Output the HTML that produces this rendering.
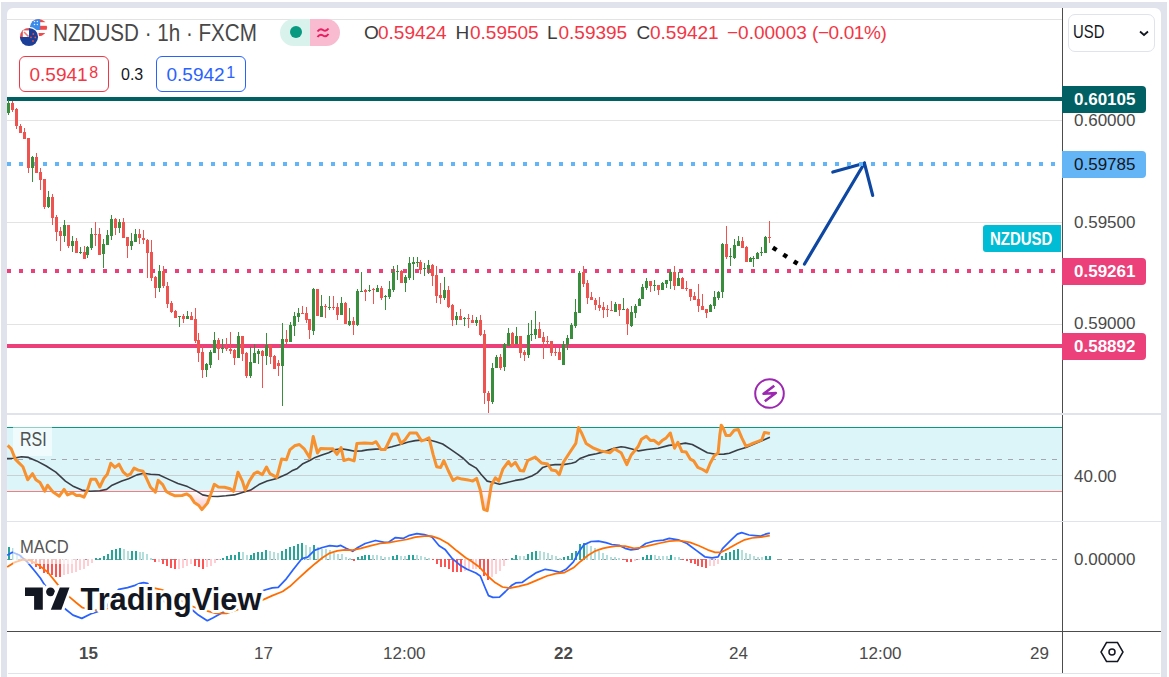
<!DOCTYPE html>
<html><head><meta charset="utf-8">
<style>
*{margin:0;padding:0;box-sizing:border-box}
html,body{width:1169px;height:677px;overflow:hidden;background:#fff;font-family:"Liberation Sans",sans-serif}
.frame{position:absolute;left:1px;top:2px;width:1166px;height:675px;background:#e0e3eb}
.card{position:absolute;left:7px;top:8px;width:1154px;height:669px;background:#fff;border-radius:6px 6px 0 0}
svg{position:absolute;left:0;top:0}
.t{position:absolute;white-space:nowrap;line-height:1}
.ax{font-size:17px;color:#4a4a4a}
.lbl{position:absolute;left:1062px;width:84px;height:27px;border-radius:0 4px 4px 0;font-size:17px;font-weight:bold;line-height:28.5px;padding-left:12px}
</style></head><body>
<div class="frame"></div>
<div class="card"></div>
<svg width="1169" height="677" viewBox="0 0 1169 677">
<defs><linearGradient id="pg" x1="0" y1="491" x2="0" y2="512" gradientUnits="userSpaceOnUse"><stop offset="0" stop-color="#f7a8b0" stop-opacity="0"/><stop offset="1" stop-color="#f7a8b0" stop-opacity="0.75"/></linearGradient></defs>
<!-- grid -->
<g fill="#e3e3e3">
<rect x="7" y="19" width="1055" height="1"/>
<rect x="7" y="120" width="1055" height="1"/>
<rect x="7" y="222" width="1055" height="1"/>
<rect x="7" y="324" width="1055" height="1"/>
</g>
<!-- black dotted projection -->
<rect x="772.5" y="246.60000000000002" width="4.4" height="4.4" fill="#000" transform="rotate(33 774.7 248.8)"/><rect x="783.0" y="253.5" width="4.4" height="4.4" fill="#000" transform="rotate(33 785.2 255.7)"/><rect x="793.5" y="260.3" width="4.4" height="4.4" fill="#000" transform="rotate(33 795.7 262.5)"/>
<!-- blue arrow -->
<g stroke="#0d47a1" stroke-width="3.2" stroke-linecap="round" fill="none">
<line x1="804.5" y1="264" x2="864.4" y2="163.2"/>
<line x1="864.4" y1="163.2" x2="832.8" y2="172"/>
<line x1="864.4" y1="163.2" x2="872.7" y2="195.4"/>
</g>
<!-- horizontal drawings -->
<rect x="7" y="97" width="1055" height="4" fill="#006064"/>
<line x1="7" y1="164" x2="1062" y2="164" stroke="#64b5f6" stroke-width="4" stroke-dasharray="4 8"/>
<line x1="7" y1="271" x2="1062" y2="271" stroke="#ec407a" stroke-width="4" stroke-dasharray="4 8"/>
<rect x="7" y="344" width="1055" height="4" fill="#ec407a"/>
<!-- candles -->
<g shape-rendering="crispEdges">
<rect x="8" y="100" width="1" height="15" fill="#388e3c"/>
<rect x="7" y="103" width="3" height="10" fill="#388e3c"/>
<rect x="12" y="101" width="1" height="11" fill="#ef5350"/>
<rect x="11" y="103" width="3" height="7" fill="#ef5350"/>
<rect x="16" y="108" width="1" height="21" fill="#ef5350"/>
<rect x="15" y="109" width="3" height="17" fill="#ef5350"/>
<rect x="20" y="124" width="1" height="9" fill="#ef5350"/>
<rect x="19" y="126" width="3" height="7" fill="#ef5350"/>
<rect x="24" y="128" width="1" height="11" fill="#ef5350"/>
<rect x="23" y="132" width="3" height="7" fill="#ef5350"/>
<rect x="28" y="138" width="1" height="35" fill="#ef5350"/>
<rect x="27" y="138" width="3" height="30" fill="#ef5350"/>
<rect x="32" y="156" width="1" height="26" fill="#388e3c"/>
<rect x="31" y="157" width="3" height="11" fill="#388e3c"/>
<rect x="36" y="153" width="1" height="20" fill="#ef5350"/>
<rect x="35" y="157" width="3" height="16" fill="#ef5350"/>
<rect x="40" y="168" width="1" height="22" fill="#ef5350"/>
<rect x="39" y="172" width="3" height="8" fill="#ef5350"/>
<rect x="44" y="179" width="1" height="30" fill="#ef5350"/>
<rect x="43" y="179" width="3" height="28" fill="#ef5350"/>
<rect x="48" y="191" width="1" height="17" fill="#388e3c"/>
<rect x="47" y="197" width="3" height="10" fill="#388e3c"/>
<rect x="52" y="194" width="1" height="31" fill="#ef5350"/>
<rect x="51" y="197" width="3" height="21" fill="#ef5350"/>
<rect x="56" y="215" width="1" height="26" fill="#ef5350"/>
<rect x="55" y="217" width="3" height="15" fill="#ef5350"/>
<rect x="60" y="227" width="1" height="24" fill="#ef5350"/>
<rect x="59" y="231" width="3" height="5" fill="#ef5350"/>
<rect x="64" y="220" width="1" height="22" fill="#388e3c"/>
<rect x="63" y="225" width="3" height="11" fill="#388e3c"/>
<rect x="68" y="225" width="1" height="23" fill="#ef5350"/>
<rect x="67" y="225" width="3" height="21" fill="#ef5350"/>
<rect x="72" y="236" width="1" height="16" fill="#388e3c"/>
<rect x="71" y="241" width="3" height="5" fill="#388e3c"/>
<rect x="76" y="238" width="1" height="15" fill="#ef5350"/>
<rect x="75" y="241" width="3" height="12" fill="#ef5350"/>
<rect x="80" y="247" width="1" height="7" fill="#388e3c"/>
<rect x="79" y="252" width="3" height="1" fill="#388e3c"/>
<rect x="84" y="246" width="1" height="13" fill="#ef5350"/>
<rect x="83" y="252" width="3" height="7" fill="#ef5350"/>
<rect x="87" y="246" width="1" height="12" fill="#388e3c"/>
<rect x="86" y="247" width="3" height="8" fill="#388e3c"/>
<rect x="91" y="228" width="1" height="22" fill="#388e3c"/>
<rect x="90" y="234" width="3" height="14" fill="#388e3c"/>
<rect x="95" y="222" width="1" height="24" fill="#ef5350"/>
<rect x="94" y="234" width="3" height="1" fill="#ef5350"/>
<rect x="99" y="228" width="1" height="27" fill="#ef5350"/>
<rect x="98" y="234" width="3" height="21" fill="#ef5350"/>
<rect x="103" y="239" width="1" height="29" fill="#388e3c"/>
<rect x="102" y="244" width="3" height="10" fill="#388e3c"/>
<rect x="107" y="230" width="1" height="15" fill="#388e3c"/>
<rect x="106" y="235" width="3" height="10" fill="#388e3c"/>
<rect x="111" y="215" width="1" height="25" fill="#388e3c"/>
<rect x="110" y="219" width="3" height="17" fill="#388e3c"/>
<rect x="115" y="218" width="1" height="17" fill="#ef5350"/>
<rect x="114" y="219" width="3" height="9" fill="#ef5350"/>
<rect x="119" y="219" width="1" height="14" fill="#388e3c"/>
<rect x="118" y="222" width="3" height="6" fill="#388e3c"/>
<rect x="123" y="218" width="1" height="20" fill="#ef5350"/>
<rect x="122" y="222" width="3" height="16" fill="#ef5350"/>
<rect x="127" y="237" width="1" height="21" fill="#ef5350"/>
<rect x="126" y="237" width="3" height="9" fill="#ef5350"/>
<rect x="131" y="233" width="1" height="17" fill="#388e3c"/>
<rect x="130" y="241" width="3" height="5" fill="#388e3c"/>
<rect x="135" y="229" width="1" height="13" fill="#388e3c"/>
<rect x="134" y="234" width="3" height="8" fill="#388e3c"/>
<rect x="139" y="229" width="1" height="15" fill="#ef5350"/>
<rect x="138" y="234" width="3" height="4" fill="#ef5350"/>
<rect x="143" y="230" width="1" height="14" fill="#ef5350"/>
<rect x="142" y="238" width="3" height="2" fill="#ef5350"/>
<rect x="147" y="239" width="1" height="39" fill="#ef5350"/>
<rect x="146" y="240" width="3" height="13" fill="#ef5350"/>
<rect x="151" y="240" width="1" height="41" fill="#ef5350"/>
<rect x="150" y="252" width="3" height="26" fill="#ef5350"/>
<rect x="155" y="276" width="1" height="22" fill="#ef5350"/>
<rect x="154" y="277" width="3" height="11" fill="#ef5350"/>
<rect x="159" y="265" width="1" height="27" fill="#388e3c"/>
<rect x="158" y="271" width="3" height="17" fill="#388e3c"/>
<rect x="163" y="266" width="1" height="22" fill="#ef5350"/>
<rect x="162" y="271" width="3" height="15" fill="#ef5350"/>
<rect x="167" y="282" width="1" height="26" fill="#ef5350"/>
<rect x="166" y="286" width="3" height="18" fill="#ef5350"/>
<rect x="171" y="301" width="1" height="12" fill="#ef5350"/>
<rect x="170" y="303" width="3" height="9" fill="#ef5350"/>
<rect x="175" y="310" width="1" height="8" fill="#ef5350"/>
<rect x="174" y="311" width="3" height="7" fill="#ef5350"/>
<rect x="179" y="316" width="1" height="11" fill="#388e3c"/>
<rect x="178" y="316" width="3" height="1" fill="#388e3c"/>
<rect x="183" y="314" width="1" height="9" fill="#ef5350"/>
<rect x="182" y="316" width="3" height="3" fill="#ef5350"/>
<rect x="187" y="311" width="1" height="8" fill="#388e3c"/>
<rect x="186" y="316" width="3" height="3" fill="#388e3c"/>
<rect x="191" y="312" width="1" height="8" fill="#ef5350"/>
<rect x="190" y="316" width="3" height="4" fill="#ef5350"/>
<rect x="195" y="308" width="1" height="35" fill="#ef5350"/>
<rect x="194" y="319" width="3" height="22" fill="#ef5350"/>
<rect x="198" y="333" width="1" height="29" fill="#ef5350"/>
<rect x="197" y="340" width="3" height="13" fill="#ef5350"/>
<rect x="202" y="346" width="1" height="32" fill="#ef5350"/>
<rect x="201" y="352" width="3" height="18" fill="#ef5350"/>
<rect x="206" y="363" width="1" height="14" fill="#388e3c"/>
<rect x="205" y="364" width="3" height="6" fill="#388e3c"/>
<rect x="210" y="350" width="1" height="18" fill="#388e3c"/>
<rect x="209" y="352" width="3" height="13" fill="#388e3c"/>
<rect x="214" y="332" width="1" height="21" fill="#388e3c"/>
<rect x="213" y="340" width="3" height="13" fill="#388e3c"/>
<rect x="218" y="338" width="1" height="22" fill="#ef5350"/>
<rect x="217" y="340" width="3" height="9" fill="#ef5350"/>
<rect x="222" y="339" width="1" height="14" fill="#388e3c"/>
<rect x="221" y="348" width="3" height="1" fill="#388e3c"/>
<rect x="226" y="338" width="1" height="13" fill="#ef5350"/>
<rect x="225" y="348" width="3" height="1" fill="#ef5350"/>
<rect x="230" y="332" width="1" height="22" fill="#ef5350"/>
<rect x="229" y="349" width="3" height="2" fill="#ef5350"/>
<rect x="234" y="349" width="1" height="16" fill="#ef5350"/>
<rect x="233" y="350" width="3" height="8" fill="#ef5350"/>
<rect x="238" y="332" width="1" height="26" fill="#388e3c"/>
<rect x="237" y="336" width="3" height="22" fill="#388e3c"/>
<rect x="242" y="336" width="1" height="25" fill="#ef5350"/>
<rect x="241" y="336" width="3" height="18" fill="#ef5350"/>
<rect x="246" y="352" width="1" height="26" fill="#ef5350"/>
<rect x="245" y="353" width="3" height="23" fill="#ef5350"/>
<rect x="250" y="347" width="1" height="31" fill="#388e3c"/>
<rect x="249" y="362" width="3" height="14" fill="#388e3c"/>
<rect x="254" y="344" width="1" height="19" fill="#388e3c"/>
<rect x="253" y="353" width="3" height="10" fill="#388e3c"/>
<rect x="258" y="349" width="1" height="15" fill="#388e3c"/>
<rect x="257" y="351" width="3" height="3" fill="#388e3c"/>
<rect x="262" y="350" width="1" height="38" fill="#ef5350"/>
<rect x="261" y="351" width="3" height="5" fill="#ef5350"/>
<rect x="266" y="333" width="1" height="32" fill="#388e3c"/>
<rect x="265" y="345" width="3" height="11" fill="#388e3c"/>
<rect x="270" y="345" width="1" height="19" fill="#ef5350"/>
<rect x="269" y="345" width="3" height="12" fill="#ef5350"/>
<rect x="274" y="355" width="1" height="14" fill="#ef5350"/>
<rect x="273" y="356" width="3" height="13" fill="#ef5350"/>
<rect x="278" y="360" width="1" height="16" fill="#ef5350"/>
<rect x="277" y="363" width="3" height="3" fill="#ef5350"/>
<rect x="282" y="323" width="1" height="83" fill="#388e3c"/>
<rect x="281" y="339" width="3" height="27" fill="#388e3c"/>
<rect x="286" y="330" width="1" height="14" fill="#ef5350"/>
<rect x="285" y="339" width="3" height="3" fill="#ef5350"/>
<rect x="290" y="322" width="1" height="20" fill="#388e3c"/>
<rect x="289" y="325" width="3" height="17" fill="#388e3c"/>
<rect x="294" y="312" width="1" height="24" fill="#388e3c"/>
<rect x="293" y="316" width="3" height="10" fill="#388e3c"/>
<rect x="298" y="308" width="1" height="14" fill="#388e3c"/>
<rect x="297" y="313" width="3" height="4" fill="#388e3c"/>
<rect x="302" y="306" width="1" height="8" fill="#ef5350"/>
<rect x="301" y="313" width="3" height="1" fill="#ef5350"/>
<rect x="306" y="307" width="1" height="16" fill="#ef5350"/>
<rect x="305" y="313" width="3" height="7" fill="#ef5350"/>
<rect x="309" y="319" width="1" height="20" fill="#ef5350"/>
<rect x="308" y="319" width="3" height="11" fill="#ef5350"/>
<rect x="313" y="288" width="1" height="47" fill="#388e3c"/>
<rect x="312" y="289" width="3" height="42" fill="#388e3c"/>
<rect x="317" y="289" width="1" height="27" fill="#ef5350"/>
<rect x="316" y="289" width="3" height="27" fill="#ef5350"/>
<rect x="321" y="295" width="1" height="22" fill="#388e3c"/>
<rect x="320" y="306" width="3" height="11" fill="#388e3c"/>
<rect x="325" y="304" width="1" height="14" fill="#ef5350"/>
<rect x="324" y="306" width="3" height="1" fill="#ef5350"/>
<rect x="329" y="296" width="1" height="14" fill="#388e3c"/>
<rect x="328" y="307" width="3" height="1" fill="#388e3c"/>
<rect x="333" y="296" width="1" height="14" fill="#ef5350"/>
<rect x="332" y="307" width="3" height="1" fill="#ef5350"/>
<rect x="337" y="303" width="1" height="17" fill="#ef5350"/>
<rect x="336" y="307" width="3" height="8" fill="#ef5350"/>
<rect x="341" y="297" width="1" height="18" fill="#388e3c"/>
<rect x="340" y="303" width="3" height="12" fill="#388e3c"/>
<rect x="345" y="302" width="1" height="22" fill="#ef5350"/>
<rect x="344" y="303" width="3" height="21" fill="#ef5350"/>
<rect x="349" y="308" width="1" height="18" fill="#388e3c"/>
<rect x="348" y="321" width="3" height="4" fill="#388e3c"/>
<rect x="353" y="317" width="1" height="18" fill="#ef5350"/>
<rect x="352" y="321" width="3" height="4" fill="#ef5350"/>
<rect x="357" y="289" width="1" height="37" fill="#388e3c"/>
<rect x="356" y="291" width="3" height="34" fill="#388e3c"/>
<rect x="361" y="272" width="1" height="20" fill="#388e3c"/>
<rect x="360" y="291" width="3" height="1" fill="#388e3c"/>
<rect x="365" y="289" width="1" height="12" fill="#ef5350"/>
<rect x="364" y="290" width="3" height="2" fill="#ef5350"/>
<rect x="369" y="285" width="1" height="7" fill="#388e3c"/>
<rect x="368" y="290" width="3" height="1" fill="#388e3c"/>
<rect x="373" y="288" width="1" height="16" fill="#ef5350"/>
<rect x="372" y="289" width="3" height="1" fill="#ef5350"/>
<rect x="377" y="285" width="1" height="7" fill="#388e3c"/>
<rect x="376" y="288" width="3" height="4" fill="#388e3c"/>
<rect x="381" y="286" width="1" height="14" fill="#ef5350"/>
<rect x="380" y="288" width="3" height="10" fill="#ef5350"/>
<rect x="385" y="295" width="1" height="15" fill="#388e3c"/>
<rect x="384" y="296" width="3" height="1" fill="#388e3c"/>
<rect x="389" y="281" width="1" height="18" fill="#388e3c"/>
<rect x="388" y="289" width="3" height="8" fill="#388e3c"/>
<rect x="393" y="266" width="1" height="26" fill="#388e3c"/>
<rect x="392" y="272" width="3" height="18" fill="#388e3c"/>
<rect x="397" y="265" width="1" height="15" fill="#388e3c"/>
<rect x="396" y="271" width="3" height="1" fill="#388e3c"/>
<rect x="401" y="270" width="1" height="13" fill="#ef5350"/>
<rect x="400" y="271" width="3" height="12" fill="#ef5350"/>
<rect x="405" y="275" width="1" height="17" fill="#388e3c"/>
<rect x="404" y="277" width="3" height="6" fill="#388e3c"/>
<rect x="409" y="257" width="1" height="23" fill="#388e3c"/>
<rect x="408" y="263" width="3" height="15" fill="#388e3c"/>
<rect x="413" y="257" width="1" height="23" fill="#388e3c"/>
<rect x="412" y="262" width="3" height="2" fill="#388e3c"/>
<rect x="417" y="257" width="1" height="10" fill="#388e3c"/>
<rect x="416" y="262" width="3" height="1" fill="#388e3c"/>
<rect x="420" y="260" width="1" height="14" fill="#ef5350"/>
<rect x="419" y="262" width="3" height="8" fill="#ef5350"/>
<rect x="424" y="263" width="1" height="13" fill="#388e3c"/>
<rect x="423" y="268" width="3" height="1" fill="#388e3c"/>
<rect x="428" y="260" width="1" height="14" fill="#388e3c"/>
<rect x="427" y="265" width="3" height="4" fill="#388e3c"/>
<rect x="432" y="264" width="1" height="22" fill="#ef5350"/>
<rect x="431" y="265" width="3" height="11" fill="#ef5350"/>
<rect x="436" y="266" width="1" height="37" fill="#ef5350"/>
<rect x="435" y="275" width="3" height="21" fill="#ef5350"/>
<rect x="440" y="283" width="1" height="21" fill="#ef5350"/>
<rect x="439" y="295" width="3" height="3" fill="#ef5350"/>
<rect x="444" y="277" width="1" height="23" fill="#388e3c"/>
<rect x="443" y="290" width="3" height="8" fill="#388e3c"/>
<rect x="448" y="286" width="1" height="22" fill="#ef5350"/>
<rect x="447" y="290" width="3" height="17" fill="#ef5350"/>
<rect x="452" y="304" width="1" height="22" fill="#ef5350"/>
<rect x="451" y="305" width="3" height="15" fill="#ef5350"/>
<rect x="456" y="312" width="1" height="13" fill="#388e3c"/>
<rect x="455" y="316" width="3" height="4" fill="#388e3c"/>
<rect x="460" y="309" width="1" height="11" fill="#ef5350"/>
<rect x="459" y="316" width="3" height="4" fill="#ef5350"/>
<rect x="464" y="317" width="1" height="9" fill="#388e3c"/>
<rect x="463" y="318" width="3" height="1" fill="#388e3c"/>
<rect x="468" y="314" width="1" height="14" fill="#ef5350"/>
<rect x="467" y="318" width="3" height="1" fill="#ef5350"/>
<rect x="472" y="315" width="1" height="8" fill="#ef5350"/>
<rect x="471" y="320" width="3" height="3" fill="#ef5350"/>
<rect x="476" y="317" width="1" height="9" fill="#388e3c"/>
<rect x="475" y="320" width="3" height="3" fill="#388e3c"/>
<rect x="480" y="315" width="1" height="21" fill="#ef5350"/>
<rect x="479" y="320" width="3" height="15" fill="#ef5350"/>
<rect x="484" y="330" width="1" height="74" fill="#ef5350"/>
<rect x="483" y="334" width="3" height="59" fill="#ef5350"/>
<rect x="488" y="391" width="1" height="22" fill="#ef5350"/>
<rect x="487" y="393" width="3" height="8" fill="#ef5350"/>
<rect x="492" y="363" width="1" height="41" fill="#388e3c"/>
<rect x="491" y="368" width="3" height="34" fill="#388e3c"/>
<rect x="496" y="355" width="1" height="13" fill="#388e3c"/>
<rect x="495" y="357" width="3" height="11" fill="#388e3c"/>
<rect x="500" y="354" width="1" height="16" fill="#ef5350"/>
<rect x="499" y="357" width="3" height="11" fill="#ef5350"/>
<rect x="504" y="343" width="1" height="28" fill="#388e3c"/>
<rect x="503" y="344" width="3" height="23" fill="#388e3c"/>
<rect x="508" y="328" width="1" height="18" fill="#388e3c"/>
<rect x="507" y="333" width="3" height="13" fill="#388e3c"/>
<rect x="512" y="332" width="1" height="15" fill="#ef5350"/>
<rect x="511" y="333" width="3" height="13" fill="#ef5350"/>
<rect x="516" y="327" width="1" height="17" fill="#388e3c"/>
<rect x="515" y="336" width="3" height="8" fill="#388e3c"/>
<rect x="520" y="336" width="1" height="22" fill="#ef5350"/>
<rect x="519" y="336" width="3" height="17" fill="#ef5350"/>
<rect x="524" y="350" width="1" height="11" fill="#ef5350"/>
<rect x="523" y="352" width="3" height="3" fill="#ef5350"/>
<rect x="528" y="323" width="1" height="35" fill="#388e3c"/>
<rect x="527" y="335" width="3" height="20" fill="#388e3c"/>
<rect x="531" y="320" width="1" height="21" fill="#388e3c"/>
<rect x="530" y="334" width="3" height="1" fill="#388e3c"/>
<rect x="535" y="311" width="1" height="28" fill="#388e3c"/>
<rect x="534" y="329" width="3" height="6" fill="#388e3c"/>
<rect x="539" y="322" width="1" height="16" fill="#ef5350"/>
<rect x="538" y="329" width="3" height="9" fill="#ef5350"/>
<rect x="543" y="332" width="1" height="27" fill="#ef5350"/>
<rect x="542" y="337" width="3" height="5" fill="#ef5350"/>
<rect x="547" y="336" width="1" height="11" fill="#ef5350"/>
<rect x="546" y="341" width="3" height="1" fill="#ef5350"/>
<rect x="551" y="341" width="1" height="15" fill="#ef5350"/>
<rect x="550" y="341" width="3" height="12" fill="#ef5350"/>
<rect x="555" y="348" width="1" height="8" fill="#ef5350"/>
<rect x="554" y="352" width="3" height="1" fill="#ef5350"/>
<rect x="559" y="348" width="1" height="12" fill="#ef5350"/>
<rect x="558" y="352" width="3" height="8" fill="#ef5350"/>
<rect x="563" y="341" width="1" height="24" fill="#388e3c"/>
<rect x="562" y="344" width="3" height="21" fill="#388e3c"/>
<rect x="567" y="335" width="1" height="15" fill="#388e3c"/>
<rect x="566" y="338" width="3" height="7" fill="#388e3c"/>
<rect x="571" y="323" width="1" height="16" fill="#388e3c"/>
<rect x="570" y="325" width="3" height="14" fill="#388e3c"/>
<rect x="575" y="299" width="1" height="29" fill="#388e3c"/>
<rect x="574" y="312" width="3" height="14" fill="#388e3c"/>
<rect x="579" y="271" width="1" height="42" fill="#388e3c"/>
<rect x="578" y="273" width="3" height="40" fill="#388e3c"/>
<rect x="583" y="266" width="1" height="21" fill="#ef5350"/>
<rect x="582" y="272" width="3" height="12" fill="#ef5350"/>
<rect x="587" y="280" width="1" height="24" fill="#ef5350"/>
<rect x="586" y="283" width="3" height="15" fill="#ef5350"/>
<rect x="591" y="292" width="1" height="8" fill="#ef5350"/>
<rect x="590" y="297" width="3" height="3" fill="#ef5350"/>
<rect x="595" y="298" width="1" height="12" fill="#ef5350"/>
<rect x="594" y="300" width="3" height="5" fill="#ef5350"/>
<rect x="599" y="297" width="1" height="14" fill="#ef5350"/>
<rect x="598" y="305" width="3" height="3" fill="#ef5350"/>
<rect x="603" y="302" width="1" height="16" fill="#ef5350"/>
<rect x="602" y="307" width="3" height="3" fill="#ef5350"/>
<rect x="607" y="305" width="1" height="12" fill="#ef5350"/>
<rect x="606" y="309" width="3" height="1" fill="#ef5350"/>
<rect x="611" y="301" width="1" height="10" fill="#ef5350"/>
<rect x="610" y="310" width="3" height="1" fill="#ef5350"/>
<rect x="615" y="302" width="1" height="10" fill="#388e3c"/>
<rect x="614" y="304" width="3" height="8" fill="#388e3c"/>
<rect x="619" y="304" width="1" height="12" fill="#ef5350"/>
<rect x="618" y="304" width="3" height="6" fill="#ef5350"/>
<rect x="623" y="298" width="1" height="12" fill="#388e3c"/>
<rect x="622" y="309" width="3" height="1" fill="#388e3c"/>
<rect x="627" y="308" width="1" height="27" fill="#ef5350"/>
<rect x="626" y="309" width="3" height="15" fill="#ef5350"/>
<rect x="631" y="306" width="1" height="21" fill="#388e3c"/>
<rect x="630" y="312" width="3" height="14" fill="#388e3c"/>
<rect x="635" y="304" width="1" height="14" fill="#388e3c"/>
<rect x="634" y="306" width="3" height="7" fill="#388e3c"/>
<rect x="639" y="298" width="1" height="8" fill="#388e3c"/>
<rect x="638" y="299" width="3" height="7" fill="#388e3c"/>
<rect x="642" y="284" width="1" height="15" fill="#388e3c"/>
<rect x="641" y="287" width="3" height="12" fill="#388e3c"/>
<rect x="646" y="278" width="1" height="12" fill="#388e3c"/>
<rect x="645" y="281" width="3" height="7" fill="#388e3c"/>
<rect x="650" y="281" width="1" height="11" fill="#ef5350"/>
<rect x="649" y="281" width="3" height="5" fill="#ef5350"/>
<rect x="654" y="280" width="1" height="11" fill="#388e3c"/>
<rect x="653" y="285" width="3" height="1" fill="#388e3c"/>
<rect x="658" y="285" width="1" height="10" fill="#ef5350"/>
<rect x="657" y="285" width="3" height="5" fill="#ef5350"/>
<rect x="662" y="282" width="1" height="8" fill="#388e3c"/>
<rect x="661" y="283" width="3" height="7" fill="#388e3c"/>
<rect x="666" y="280" width="1" height="8" fill="#388e3c"/>
<rect x="665" y="280" width="3" height="4" fill="#388e3c"/>
<rect x="670" y="270" width="1" height="19" fill="#388e3c"/>
<rect x="669" y="272" width="3" height="9" fill="#388e3c"/>
<rect x="674" y="266" width="1" height="24" fill="#ef5350"/>
<rect x="673" y="272" width="3" height="14" fill="#ef5350"/>
<rect x="678" y="272" width="1" height="14" fill="#388e3c"/>
<rect x="677" y="278" width="3" height="8" fill="#388e3c"/>
<rect x="682" y="277" width="1" height="12" fill="#ef5350"/>
<rect x="681" y="278" width="3" height="11" fill="#ef5350"/>
<rect x="686" y="281" width="1" height="10" fill="#ef5350"/>
<rect x="685" y="288" width="3" height="1" fill="#ef5350"/>
<rect x="690" y="289" width="1" height="12" fill="#ef5350"/>
<rect x="689" y="289" width="3" height="8" fill="#ef5350"/>
<rect x="694" y="292" width="1" height="8" fill="#ef5350"/>
<rect x="693" y="296" width="3" height="4" fill="#ef5350"/>
<rect x="698" y="284" width="1" height="28" fill="#ef5350"/>
<rect x="697" y="299" width="3" height="7" fill="#ef5350"/>
<rect x="702" y="294" width="1" height="16" fill="#ef5350"/>
<rect x="701" y="306" width="3" height="4" fill="#ef5350"/>
<rect x="706" y="309" width="1" height="9" fill="#ef5350"/>
<rect x="705" y="309" width="3" height="4" fill="#ef5350"/>
<rect x="710" y="304" width="1" height="8" fill="#388e3c"/>
<rect x="709" y="305" width="3" height="7" fill="#388e3c"/>
<rect x="714" y="291" width="1" height="18" fill="#388e3c"/>
<rect x="713" y="297" width="3" height="9" fill="#388e3c"/>
<rect x="718" y="291" width="1" height="9" fill="#388e3c"/>
<rect x="717" y="292" width="3" height="6" fill="#388e3c"/>
<rect x="722" y="243" width="1" height="55" fill="#388e3c"/>
<rect x="721" y="244" width="3" height="48" fill="#388e3c"/>
<rect x="726" y="226" width="1" height="33" fill="#ef5350"/>
<rect x="725" y="244" width="3" height="13" fill="#ef5350"/>
<rect x="730" y="248" width="1" height="18" fill="#388e3c"/>
<rect x="729" y="256" width="3" height="1" fill="#388e3c"/>
<rect x="734" y="239" width="1" height="20" fill="#388e3c"/>
<rect x="733" y="245" width="3" height="13" fill="#388e3c"/>
<rect x="738" y="236" width="1" height="10" fill="#388e3c"/>
<rect x="737" y="241" width="3" height="5" fill="#388e3c"/>
<rect x="742" y="237" width="1" height="11" fill="#ef5350"/>
<rect x="741" y="241" width="3" height="7" fill="#ef5350"/>
<rect x="746" y="246" width="1" height="16" fill="#ef5350"/>
<rect x="745" y="247" width="3" height="15" fill="#ef5350"/>
<rect x="750" y="257" width="1" height="5" fill="#388e3c"/>
<rect x="749" y="258" width="3" height="4" fill="#388e3c"/>
<rect x="753" y="256" width="1" height="11" fill="#388e3c"/>
<rect x="752" y="258" width="3" height="1" fill="#388e3c"/>
<rect x="757" y="252" width="1" height="7" fill="#388e3c"/>
<rect x="756" y="253" width="3" height="6" fill="#388e3c"/>
<rect x="761" y="247" width="1" height="9" fill="#388e3c"/>
<rect x="760" y="252" width="3" height="1" fill="#388e3c"/>
<rect x="765" y="236" width="1" height="17" fill="#388e3c"/>
<rect x="764" y="237" width="3" height="16" fill="#388e3c"/>
<rect x="769" y="221" width="1" height="22" fill="#ef5350"/>
<rect x="768" y="237" width="3" height="1" fill="#ef5350"/>
</g>
<!-- lightning icon -->
<circle cx="769.5" cy="393.5" r="14.3" fill="#fff" stroke="#9c27b0" stroke-width="2"/>
<path d="M774.3 385.8 L763.6 393.8 L775.8 393 L764.8 401.2" fill="none" stroke="#9c27b0" stroke-width="2.6" stroke-linejoin="round" stroke-linecap="butt"/>
<!-- pane separators -->
<rect x="7" y="413" width="1154" height="2" fill="#e0e3eb"/>
<rect x="7" y="521" width="1154" height="1" fill="#e0e3eb"/>
<!-- RSI pane -->
<rect x="7" y="428" width="1055" height="63" fill="#dbf5f9"/>
<rect x="7" y="427" width="1055" height="1" fill="#089981"/>
<rect x="7" y="491" width="1055" height="1" fill="#f77c80"/>
<line x1="7" y1="459.5" x2="1062" y2="459.5" stroke="#a3a6ae" stroke-width="1" stroke-dasharray="5 6"/>
<rect x="7" y="475" width="1055" height="1" fill="#c9d0d2"/>
<polygon points="52.6,491.5 53.1,492.1 59.3,496.2 62.6,491.5" fill="url(#pg)"/>
<polygon points="65.4,491.5 67.5,494.9 72.3,492.8 76.4,495.5 79.9,495.3 84.0,497.2 86.7,491.5" fill="url(#pg)"/>
<polygon points="154.8,491.5 155.4,492.1 155.5,491.5" fill="url(#pg)"/>
<polygon points="166.4,491.5 171.0,494.2 175.1,495.8 182.0,495.5 186.8,493.9 190.2,496.2 194.3,502.4 198.5,505.2 201.9,509.6 207.4,503.1 210.8,494.2 211.8,491.5" fill="url(#pg)"/>
<polygon points="480.5,491.5 483.7,509.3 487.2,510.7 490.3,491.5" fill="url(#pg)"/>
<rect x="13" y="427" width="39" height="29" fill="#fff" opacity="0.55"/>
<polyline points="7.0,458.5 13.2,458.2 21.5,456.8 28.4,457.4 36.6,460.9 46.2,466.0 55.8,472.2 65.4,481.1 73.7,486.6 81.9,490.1 90.2,491.2 99.8,490.7 106.6,489.4 112.1,485.2 121.8,481.1 128.6,478.8 136.9,474.9 143.7,473.3 150.6,474.3 158.8,474.7 168.2,479.1 177.9,483.5 187.5,486.6 197.1,491.4 202.6,494.9 209.5,496.2 217.7,496.5 225.9,495.8 234.2,494.9 242.4,492.5 250.7,490.1 258.9,484.6 267.1,481.1 276.8,478.4 286.4,474.3 291.9,470.8 297.4,468.4 302.9,463.7 309.7,460.5 315.2,457.4 321.9,455.0 328.7,452.7 334.2,449.9 341.1,448.8 348.0,449.9 354.8,451.3 361.7,450.9 367.2,449.9 375.4,449.1 383.7,448.8 391.9,446.8 400.2,444.5 408.4,442.0 415.3,440.6 423.5,439.9 430.4,440.3 435.9,441.7 442.7,444.0 449.6,448.6 457.9,454.3 463.4,458.5 468.8,463.7 476.2,468.1 481.0,474.3 487.2,481.1 493.4,482.5 499.5,484.3 507.1,482.5 515.3,480.4 523.6,479.1 531.8,476.0 537.3,472.9 542.8,467.4 549.7,465.3 555.2,464.6 563.4,464.6 571.6,463.3 575.8,461.9 579.9,458.5 588.1,455.4 596.4,453.7 604.6,451.6 614.2,448.2 621.1,446.8 625.0,447.2 631.9,449.1 638.7,450.9 647.0,449.5 658.0,448.2 669.0,445.4 677.2,444.5 685.4,443.1 692.3,444.5 699.2,448.2 707.4,452.7 715.7,454.3 723.9,454.1 729.4,453.2 737.6,449.9 745.9,447.5 754.1,444.0 762.4,440.6 769.9,437.2" fill="none" stroke="#3a3d45" stroke-width="1.6" stroke-linejoin="round"/>
<polyline points="7.7,445.4 11.2,448.8 15.3,459.1 18.7,462.6 22.9,466.7 27.7,479.8 32.5,473.6 35.9,479.8 40.0,482.5 44.8,491.2 47.6,485.2 53.1,492.1 59.3,496.2 64.1,489.4 67.5,494.9 72.3,492.8 76.4,495.5 79.9,495.3 84.0,497.2 87.4,490.1 90.9,479.3 95.7,479.3 99.8,487.0 103.9,478.4 107.3,474.3 110.8,463.3 114.9,467.4 119.0,464.2 123.1,471.9 127.3,475.6 130.7,473.8 134.1,468.1 138.2,470.1 143.0,471.1 146.5,478.4 150.6,487.3 155.4,492.1 158.2,480.4 162.7,484.6 166.2,491.4 171.0,494.2 175.1,495.8 182.0,495.5 186.8,493.9 190.2,496.2 194.3,502.4 198.5,505.2 201.9,509.6 207.4,503.1 210.8,494.2 214.3,484.3 218.4,487.0 224.6,487.3 230.1,488.7 233.5,491.4 238.0,472.2 242.4,481.1 245.2,490.3 249.3,481.1 254.1,473.6 257.5,471.9 262.3,474.7 266.5,467.0 269.9,473.6 276.8,477.4 281.6,459.1 286.4,459.8 289.8,449.9 294.6,445.8 299.4,444.5 304.2,448.8 309.7,457.8 313.2,436.5 317.5,453.0 320.5,448.6 327.4,448.8 332.9,448.8 337.0,454.3 341.1,447.5 343.8,460.5 348.7,459.1 354.1,460.9 356.9,443.4 364.5,443.1 372.7,443.4 376.1,441.7 380.9,449.5 385.1,449.5 392.6,434.0 397.1,434.0 400.9,443.4 405.0,439.9 409.8,433.0 416.6,433.0 421.5,440.9 424.9,439.9 429.0,437.9 433.1,454.3 436.6,466.7 440.7,467.4 443.8,460.5 448.2,470.5 453.0,480.4 457.2,477.7 462.0,479.1 466.8,479.8 470.0,480.4 472.7,481.1 476.6,478.4 480.3,490.1 483.7,509.3 487.2,510.7 491.3,485.2 495.4,477.7 498.8,481.1 503.0,468.8 508.5,461.5 511.2,466.0 515.3,462.3 520.1,470.5 523.6,471.1 527.7,460.5 535.2,457.1 541.4,462.9 547.6,464.0 551.7,470.1 555.9,470.8 559.3,474.7 563.4,462.3 568.9,453.7 575.8,443.4 578.5,427.6 581.3,432.4 586.1,443.4 593.6,448.2 600.5,450.9 610.1,452.7 614.2,448.8 621.1,452.7 626.8,464.6 631.2,455.0 638.0,446.8 641.5,439.2 646.3,436.2 650.4,440.6 653.8,440.3 658.7,444.0 662.1,440.6 666.2,437.9 670.3,433.0 674.5,448.2 677.9,442.3 682.0,451.6 686.1,451.9 690.2,459.1 693.7,460.9 697.8,467.4 702.6,469.5 706.7,471.9 710.2,463.3 714.3,455.7 718.1,453.0 719.8,435.1 721.2,425.2 723.2,428.2 726.0,435.4 730.1,435.4 734.2,430.3 738.3,429.6 741.8,437.9 745.9,446.1 750.0,444.7 753.4,443.1 758.2,441.3 761.7,439.9 764.4,432.4 769.9,433.5" fill="none" stroke="#f7902d" stroke-width="3" stroke-linejoin="round"/>
<!-- MACD pane -->
<line x1="7" y1="559.5" x2="1062" y2="559.5" stroke="#9598a1" stroke-width="1" stroke-dasharray="5 6"/>
<g shape-rendering="crispEdges">
<rect x="8" y="547" width="2" height="13" fill="#26a69a"/>
<rect x="12" y="548" width="2" height="12" fill="#b2dfdb"/>
<rect x="16" y="553" width="2" height="7" fill="#b2dfdb"/>
<rect x="20" y="555" width="2" height="5" fill="#b2dfdb"/>
<rect x="24" y="558" width="2" height="2" fill="#b2dfdb"/>
<rect x="28" y="559" width="2" height="2" fill="#ff5252"/>
<rect x="31" y="559" width="2" height="5" fill="#ff5252"/>
<rect x="35" y="559" width="2" height="8" fill="#ff5252"/>
<rect x="39" y="559" width="2" height="10" fill="#ff5252"/>
<rect x="43" y="559" width="2" height="14" fill="#ff5252"/>
<rect x="47" y="559" width="2" height="15" fill="#ff5252"/>
<rect x="51" y="559" width="2" height="16" fill="#ff5252"/>
<rect x="55" y="559" width="2" height="18" fill="#ff5252"/>
<rect x="59" y="559" width="2" height="18" fill="#ff5252"/>
<rect x="63" y="559" width="2" height="16" fill="#ffcdd2"/>
<rect x="67" y="559" width="2" height="15" fill="#ffcdd2"/>
<rect x="71" y="559" width="2" height="14" fill="#ffcdd2"/>
<rect x="75" y="559" width="2" height="13" fill="#ffcdd2"/>
<rect x="79" y="559" width="2" height="11" fill="#ffcdd2"/>
<rect x="83" y="559" width="2" height="10" fill="#ffcdd2"/>
<rect x="87" y="559" width="2" height="7" fill="#ffcdd2"/>
<rect x="91" y="559" width="2" height="4" fill="#ffcdd2"/>
<rect x="95" y="558" width="2" height="2" fill="#26a69a"/>
<rect x="99" y="558" width="2" height="2" fill="#26a69a"/>
<rect x="103" y="556" width="2" height="4" fill="#26a69a"/>
<rect x="107" y="554" width="2" height="6" fill="#26a69a"/>
<rect x="111" y="550" width="2" height="10" fill="#26a69a"/>
<rect x="115" y="549" width="2" height="11" fill="#26a69a"/>
<rect x="119" y="548" width="2" height="12" fill="#26a69a"/>
<rect x="123" y="549" width="2" height="11" fill="#b2dfdb"/>
<rect x="127" y="551" width="2" height="9" fill="#b2dfdb"/>
<rect x="131" y="551" width="2" height="9" fill="#26a69a"/>
<rect x="135" y="551" width="2" height="9" fill="#26a69a"/>
<rect x="139" y="552" width="2" height="8" fill="#b2dfdb"/>
<rect x="142" y="552" width="2" height="8" fill="#b2dfdb"/>
<rect x="146" y="554" width="2" height="6" fill="#b2dfdb"/>
<rect x="150" y="558" width="2" height="2" fill="#b2dfdb"/>
<rect x="154" y="559" width="2" height="3" fill="#ff5252"/>
<rect x="158" y="559" width="2" height="3" fill="#ffcdd2"/>
<rect x="162" y="559" width="2" height="5" fill="#ff5252"/>
<rect x="166" y="559" width="2" height="7" fill="#ff5252"/>
<rect x="170" y="559" width="2" height="9" fill="#ff5252"/>
<rect x="174" y="559" width="2" height="10" fill="#ff5252"/>
<rect x="178" y="559" width="2" height="10" fill="#ffcdd2"/>
<rect x="182" y="559" width="2" height="9" fill="#ffcdd2"/>
<rect x="186" y="559" width="2" height="7" fill="#ffcdd2"/>
<rect x="190" y="559" width="2" height="5" fill="#ffcdd2"/>
<rect x="194" y="559" width="2" height="7" fill="#ff5252"/>
<rect x="198" y="559" width="2" height="8" fill="#ff5252"/>
<rect x="202" y="559" width="2" height="10" fill="#ff5252"/>
<rect x="206" y="559" width="2" height="8" fill="#ffcdd2"/>
<rect x="210" y="559" width="2" height="7" fill="#ffcdd2"/>
<rect x="214" y="559" width="2" height="4" fill="#ffcdd2"/>
<rect x="218" y="559" width="2" height="1" fill="#ffcdd2"/>
<rect x="222" y="558" width="2" height="2" fill="#26a69a"/>
<rect x="226" y="556" width="2" height="4" fill="#26a69a"/>
<rect x="230" y="555" width="2" height="5" fill="#26a69a"/>
<rect x="234" y="555" width="2" height="5" fill="#26a69a"/>
<rect x="238" y="552" width="2" height="8" fill="#26a69a"/>
<rect x="242" y="552" width="2" height="8" fill="#b2dfdb"/>
<rect x="246" y="555" width="2" height="5" fill="#b2dfdb"/>
<rect x="250" y="555" width="2" height="5" fill="#26a69a"/>
<rect x="253" y="553" width="2" height="7" fill="#26a69a"/>
<rect x="257" y="552" width="2" height="8" fill="#26a69a"/>
<rect x="261" y="552" width="2" height="8" fill="#26a69a"/>
<rect x="265" y="550" width="2" height="10" fill="#26a69a"/>
<rect x="269" y="551" width="2" height="9" fill="#b2dfdb"/>
<rect x="273" y="552" width="2" height="8" fill="#b2dfdb"/>
<rect x="277" y="553" width="2" height="7" fill="#b2dfdb"/>
<rect x="281" y="551" width="2" height="9" fill="#26a69a"/>
<rect x="285" y="549" width="2" height="11" fill="#26a69a"/>
<rect x="289" y="547" width="2" height="13" fill="#26a69a"/>
<rect x="293" y="546" width="2" height="14" fill="#26a69a"/>
<rect x="297" y="544" width="2" height="16" fill="#26a69a"/>
<rect x="301" y="543" width="2" height="17" fill="#26a69a"/>
<rect x="305" y="545" width="2" height="15" fill="#b2dfdb"/>
<rect x="309" y="547" width="2" height="13" fill="#b2dfdb"/>
<rect x="313" y="545" width="2" height="15" fill="#26a69a"/>
<rect x="317" y="547" width="2" height="13" fill="#b2dfdb"/>
<rect x="321" y="549" width="2" height="11" fill="#b2dfdb"/>
<rect x="325" y="549" width="2" height="11" fill="#b2dfdb"/>
<rect x="329" y="550" width="2" height="10" fill="#b2dfdb"/>
<rect x="333" y="553" width="2" height="7" fill="#b2dfdb"/>
<rect x="337" y="554" width="2" height="6" fill="#b2dfdb"/>
<rect x="341" y="554" width="2" height="6" fill="#b2dfdb"/>
<rect x="345" y="557" width="2" height="3" fill="#b2dfdb"/>
<rect x="349" y="558" width="2" height="2" fill="#b2dfdb"/>
<rect x="353" y="559" width="2" height="2" fill="#ff5252"/>
<rect x="357" y="557" width="2" height="3" fill="#26a69a"/>
<rect x="361" y="556" width="2" height="4" fill="#26a69a"/>
<rect x="364" y="555" width="2" height="5" fill="#26a69a"/>
<rect x="368" y="555" width="2" height="5" fill="#26a69a"/>
<rect x="372" y="555" width="2" height="5" fill="#b2dfdb"/>
<rect x="376" y="555" width="2" height="5" fill="#b2dfdb"/>
<rect x="380" y="556" width="2" height="4" fill="#b2dfdb"/>
<rect x="384" y="557" width="2" height="3" fill="#b2dfdb"/>
<rect x="388" y="557" width="2" height="3" fill="#b2dfdb"/>
<rect x="392" y="556" width="2" height="4" fill="#26a69a"/>
<rect x="396" y="555" width="2" height="5" fill="#26a69a"/>
<rect x="400" y="556" width="2" height="4" fill="#b2dfdb"/>
<rect x="404" y="556" width="2" height="4" fill="#b2dfdb"/>
<rect x="408" y="555" width="2" height="5" fill="#26a69a"/>
<rect x="412" y="555" width="2" height="5" fill="#26a69a"/>
<rect x="416" y="555" width="2" height="5" fill="#b2dfdb"/>
<rect x="420" y="556" width="2" height="4" fill="#b2dfdb"/>
<rect x="424" y="557" width="2" height="3" fill="#b2dfdb"/>
<rect x="428" y="558" width="2" height="2" fill="#b2dfdb"/>
<rect x="432" y="559" width="2" height="1" fill="#ff5252"/>
<rect x="436" y="559" width="2" height="5" fill="#ff5252"/>
<rect x="440" y="559" width="2" height="8" fill="#ff5252"/>
<rect x="444" y="559" width="2" height="8" fill="#ff5252"/>
<rect x="448" y="559" width="2" height="10" fill="#ff5252"/>
<rect x="452" y="559" width="2" height="13" fill="#ff5252"/>
<rect x="456" y="559" width="2" height="13" fill="#ff5252"/>
<rect x="460" y="559" width="2" height="13" fill="#ff5252"/>
<rect x="464" y="559" width="2" height="12" fill="#ffcdd2"/>
<rect x="468" y="559" width="2" height="10" fill="#ffcdd2"/>
<rect x="472" y="559" width="2" height="10" fill="#ffcdd2"/>
<rect x="475" y="559" width="2" height="10" fill="#ffcdd2"/>
<rect x="479" y="559" width="2" height="10" fill="#ff5252"/>
<rect x="483" y="559" width="2" height="17" fill="#ff5252"/>
<rect x="487" y="559" width="2" height="21" fill="#ff5252"/>
<rect x="491" y="559" width="2" height="18" fill="#ffcdd2"/>
<rect x="495" y="559" width="2" height="15" fill="#ffcdd2"/>
<rect x="499" y="559" width="2" height="12" fill="#ffcdd2"/>
<rect x="503" y="559" width="2" height="7" fill="#ffcdd2"/>
<rect x="507" y="559" width="2" height="1" fill="#ffcdd2"/>
<rect x="511" y="558" width="2" height="2" fill="#26a69a"/>
<rect x="515" y="555" width="2" height="5" fill="#26a69a"/>
<rect x="519" y="556" width="2" height="4" fill="#b2dfdb"/>
<rect x="523" y="556" width="2" height="4" fill="#b2dfdb"/>
<rect x="527" y="554" width="2" height="6" fill="#26a69a"/>
<rect x="531" y="552" width="2" height="8" fill="#26a69a"/>
<rect x="535" y="551" width="2" height="9" fill="#26a69a"/>
<rect x="539" y="551" width="2" height="9" fill="#b2dfdb"/>
<rect x="543" y="552" width="2" height="8" fill="#b2dfdb"/>
<rect x="547" y="553" width="2" height="7" fill="#b2dfdb"/>
<rect x="551" y="555" width="2" height="5" fill="#b2dfdb"/>
<rect x="555" y="556" width="2" height="4" fill="#b2dfdb"/>
<rect x="559" y="558" width="2" height="2" fill="#b2dfdb"/>
<rect x="563" y="557" width="2" height="3" fill="#26a69a"/>
<rect x="567" y="556" width="2" height="4" fill="#26a69a"/>
<rect x="571" y="553" width="2" height="7" fill="#26a69a"/>
<rect x="575" y="551" width="2" height="9" fill="#26a69a"/>
<rect x="579" y="544" width="2" height="16" fill="#26a69a"/>
<rect x="583" y="543" width="2" height="17" fill="#26a69a"/>
<rect x="586" y="544" width="2" height="16" fill="#b2dfdb"/>
<rect x="590" y="546" width="2" height="14" fill="#b2dfdb"/>
<rect x="594" y="548" width="2" height="12" fill="#b2dfdb"/>
<rect x="598" y="551" width="2" height="9" fill="#b2dfdb"/>
<rect x="602" y="553" width="2" height="7" fill="#b2dfdb"/>
<rect x="606" y="555" width="2" height="5" fill="#b2dfdb"/>
<rect x="610" y="557" width="2" height="3" fill="#b2dfdb"/>
<rect x="614" y="557" width="2" height="3" fill="#b2dfdb"/>
<rect x="618" y="558" width="2" height="2" fill="#b2dfdb"/>
<rect x="622" y="559" width="2" height="1" fill="#ff5252"/>
<rect x="626" y="559" width="2" height="3" fill="#ff5252"/>
<rect x="630" y="559" width="2" height="3" fill="#ff5252"/>
<rect x="634" y="559" width="2" height="2" fill="#ffcdd2"/>
<rect x="638" y="559" width="2" height="1" fill="#ffcdd2"/>
<rect x="642" y="557" width="2" height="3" fill="#26a69a"/>
<rect x="646" y="555" width="2" height="5" fill="#26a69a"/>
<rect x="650" y="555" width="2" height="5" fill="#26a69a"/>
<rect x="654" y="555" width="2" height="5" fill="#b2dfdb"/>
<rect x="658" y="556" width="2" height="4" fill="#b2dfdb"/>
<rect x="662" y="556" width="2" height="4" fill="#b2dfdb"/>
<rect x="666" y="556" width="2" height="4" fill="#b2dfdb"/>
<rect x="670" y="555" width="2" height="5" fill="#26a69a"/>
<rect x="674" y="557" width="2" height="3" fill="#b2dfdb"/>
<rect x="678" y="557" width="2" height="3" fill="#b2dfdb"/>
<rect x="682" y="559" width="2" height="1" fill="#ff5252"/>
<rect x="686" y="559" width="2" height="2" fill="#ff5252"/>
<rect x="690" y="559" width="2" height="4" fill="#ff5252"/>
<rect x="694" y="559" width="2" height="5" fill="#ff5252"/>
<rect x="697" y="559" width="2" height="7" fill="#ff5252"/>
<rect x="701" y="559" width="2" height="8" fill="#ff5252"/>
<rect x="705" y="559" width="2" height="9" fill="#ff5252"/>
<rect x="709" y="559" width="2" height="7" fill="#ffcdd2"/>
<rect x="713" y="559" width="2" height="7" fill="#ffcdd2"/>
<rect x="717" y="559" width="2" height="5" fill="#ffcdd2"/>
<rect x="721" y="556" width="2" height="4" fill="#26a69a"/>
<rect x="725" y="553" width="2" height="7" fill="#26a69a"/>
<rect x="729" y="552" width="2" height="8" fill="#26a69a"/>
<rect x="733" y="550" width="2" height="10" fill="#26a69a"/>
<rect x="737" y="549" width="2" height="11" fill="#26a69a"/>
<rect x="741" y="550" width="2" height="10" fill="#b2dfdb"/>
<rect x="745" y="553" width="2" height="7" fill="#b2dfdb"/>
<rect x="749" y="554" width="2" height="6" fill="#b2dfdb"/>
<rect x="753" y="556" width="2" height="4" fill="#b2dfdb"/>
<rect x="757" y="557" width="2" height="3" fill="#b2dfdb"/>
<rect x="761" y="557" width="2" height="3" fill="#b2dfdb"/>
<rect x="765" y="556" width="2" height="4" fill="#26a69a"/>
<rect x="769" y="556" width="2" height="4" fill="#26a69a"/>
</g>
<polyline points="7.2,555.3 12.4,552.3 19.8,555.3 27.2,561.9 34.5,570.8 40.5,578.2 44.1,584.1 50.0,592.0 56.0,600.0 61.0,605.5 65.6,609.2 73.0,615.1 81.8,618.4 92.1,613.3 100.0,611.0 105.6,608.4 112.0,598.0 118.7,589.3 127.6,587.6 135.0,585.3 140.0,583.3 143.5,582.6 147.5,583.3 152.0,590.0 158.0,597.0 166.0,603.0 175.0,606.0 184.0,607.5 191.8,609.5 198.4,615.1 207.3,620.7 213.2,617.8 223.5,612.1 233.0,606.0 243.0,600.0 254.0,594.0 264.9,590.0 272.3,587.8 278.2,587.3 285.6,579.7 292.9,570.0 301.8,558.7 307.7,557.2 314.4,550.4 322.4,547.5 329.8,545.7 337.2,546.4 340.8,545.4 346.0,548.3 352.7,551.3 357.8,547.5 365.2,543.5 375.6,540.5 384.4,542.4 388.9,542.0 395.5,537.6 403.6,538.3 409.5,535.3 416.9,533.6 424.3,534.6 431.7,536.8 439.1,545.7 445.0,549.4 452.4,558.7 459.8,564.9 467.1,569.3 475.9,573.0 480.3,576.0 484.8,587.0 488.5,595.6 492.9,597.4 499.5,597.1 505.5,591.5 511.4,585.6 515.8,582.9 522.4,582.3 529.1,577.4 536.5,572.6 545.3,569.3 552.7,570.5 560.1,572.3 566.0,569.3 573.4,561.9 578.6,552.3 583.7,544.9 591.1,541.5 598.5,541.2 605.9,542.7 611.8,544.5 619.2,545.4 625.1,548.3 630.9,549.8 638.3,548.9 645.7,543.5 654.5,541.0 663.4,540.1 669.3,538.3 678.2,539.8 687.0,543.5 695.9,550.1 704.8,556.8 712.1,557.8 718.1,556.8 722.5,548.6 729.9,541.2 737.3,534.2 741.7,532.7 749.1,535.0 755.0,535.6 760.9,536.1 765.3,534.2 769.8,533.1" fill="none" stroke="#2962ff" stroke-width="1.75" stroke-linejoin="round"/>
<polyline points="7.2,567.1 13.9,562.7 22.7,559.7 30.1,560.5 37.5,564.1 47.8,572.3 57.4,584.1 64.0,591.0 70.0,597.4 76.0,602.5 82.5,607.7 92.0,610.0 100.0,610.0 105.4,609.2 115.0,605.5 125.0,600.0 135.0,595.0 145.0,590.5 154.5,588.2 162.0,589.8 171.0,594.0 180.0,600.0 190.0,605.5 198.0,608.5 205.8,610.7 216.1,613.3 226.5,613.3 238.3,609.5 250.0,604.0 263.4,599.6 272.3,595.6 282.6,591.5 290.0,586.3 298.8,578.2 307.7,570.0 315.1,563.7 322.4,557.8 329.8,553.1 337.2,550.8 344.5,549.8 352.7,550.1 360.8,548.3 371.1,545.7 380.0,543.5 388.9,542.7 397.7,541.0 406.6,539.5 415.4,537.1 424.3,536.1 431.7,536.1 439.1,538.6 448.0,543.5 456.8,550.8 465.7,557.8 470.0,560.2 478.9,566.7 487.7,576.0 495.1,582.6 502.5,587.0 509.9,588.2 518.7,586.3 527.6,584.1 536.5,580.4 546.8,576.0 555.7,573.7 564.5,572.6 573.4,567.8 580.8,561.2 588.2,555.3 595.6,550.8 602.9,548.3 610.3,546.9 617.7,546.0 625.1,546.2 633.9,548.3 641.2,547.5 650.1,545.4 660.5,543.0 669.3,541.2 679.7,540.5 690.0,542.4 698.9,545.7 707.7,549.8 715.1,552.3 721.0,552.3 728.4,548.6 737.3,543.5 744.6,539.8 752.0,538.0 760.9,537.1 769.8,535.6" fill="none" stroke="#ff6d00" stroke-width="1.75" stroke-linejoin="round"/>
<rect x="13" y="536" width="62" height="28" fill="#fff" opacity="0.6"/>
<!-- axes -->
<g fill="#4c4c4c">
<rect x="1062" y="8" width="1" height="405"/>
<rect x="1062" y="415" width="1" height="106"/>
<rect x="1062" y="522" width="1" height="109"/>
<rect x="1062" y="632" width="1" height="41"/>
<rect x="7" y="631" width="1154" height="1"/>
</g>
<rect x="8" y="673" width="1152" height="1" fill="#e0e3eb"/>
<!-- TradingView logo -->
<g>
<g fill="#131722" stroke="#fff" stroke-width="6" stroke-linejoin="round" paint-order="stroke">
<path d="M25 587.4 H42.8 V609.7 H34.1 V596.1 H25 Z"/>
<circle cx="50.5" cy="591.8" r="4.4"/>
<path d="M59.8 587.4 H69.5 L61.3 609.7 H50.8 Z"/>
</g>
<text x="80.5" y="610" font-family="Liberation Sans" font-weight="bold" font-size="31.5" fill="#131722" stroke="#fff" stroke-width="6" stroke-linejoin="round" paint-order="stroke" textLength="181" lengthAdjust="spacingAndGlyphs">TradingView</text>
</g>
</svg>

<!-- legend -->
<svg width="60" height="60" style="left:0;top:0" viewBox="0 0 60 60">
<clipPath id="us"><circle cx="38.5" cy="27.6" r="8.6"/></clipPath>
<g clip-path="url(#us)">
<rect x="29" y="18" width="20" height="20" fill="#fff"/>
<rect x="29" y="18" width="20" height="4.2" fill="#f04a4a"/>
<rect x="29" y="25.8" width="20" height="4" fill="#f04a4a"/>
<rect x="29" y="33" width="20" height="3.4" fill="#f04a4a"/>
<rect x="29" y="18" width="11.2" height="12" fill="#3b8beb"/>
<g fill="#fff" opacity="0.85"><circle cx="34.5" cy="21.4" r="0.75"/><circle cx="37.4" cy="21.4" r="0.75"/><circle cx="34.5" cy="24.5" r="0.75"/><circle cx="37.4" cy="24.5" r="0.75"/></g>
</g>
<circle cx="29" cy="37" r="10.2" fill="#fff"/>
<circle cx="29" cy="37" r="9.1" fill="#1b3f98"/>
<clipPath id="nz"><circle cx="29" cy="37" r="9.1"/></clipPath>
<g clip-path="url(#nz)">
<rect x="19" y="27" width="10" height="10" fill="#fff"/>
<rect x="19" y="27" width="10" height="3.4" fill="#ef4a4a"/>
<rect x="19" y="27" width="3.8" height="10" fill="#ef4a4a"/>
<path d="M24 32 L28.6 36.6" stroke="#ef7a7a" stroke-width="1.5"/>
<circle cx="33.3" cy="34" r="0.9" fill="#e8503f"/>
<circle cx="31" cy="37.3" r="0.9" fill="#e8503f"/>
<circle cx="35.3" cy="37.4" r="0.9" fill="#e8503f"/>
<circle cx="33" cy="41" r="0.9" fill="#e8503f"/>
</g>
</svg>
<div class="t" style="left:52.5px;top:21.8px;font-size:23.6px;color:#484848;transform:scaleX(0.874);transform-origin:0 0">NZDUSD · 1h · FXCM</div>
<div style="position:absolute;left:280px;top:19px;width:60px;height:27px;border-radius:13.5px;overflow:hidden">
<div style="position:absolute;left:0;top:0;width:30px;height:27px;background:#daf2ec"></div>
<div style="position:absolute;left:30px;top:0;width:30px;height:27px;background:#f8bbd0"></div>
<div style="position:absolute;left:10px;top:7px;width:12px;height:12px;border-radius:6px;background:#089981"></div>
<svg width="16" height="12" style="left:36px;top:26px;position:absolute;left:36px;top:8px" viewBox="0 0 16 12"><path d="M1.5 4.5 Q4 1 7 3 T12.5 1.5 M1.5 10 Q4 6.5 7 8.5 T12.5 7" fill="none" stroke="#e91e63" stroke-width="2"/></svg>
</div>
<div class="t" style="left:364px;top:23px;font-size:19px;color:#3c3c3c">O</div>
<div class="t" style="left:378px;top:23px;font-size:19px;color:#f23645">0.59424</div>
<div class="t" style="left:455.5px;top:23px;font-size:19px;color:#3c3c3c">H</div>
<div class="t" style="left:470px;top:23px;font-size:19px;color:#f23645">0.59505</div>
<div class="t" style="left:547px;top:23px;font-size:19px;color:#3c3c3c">L</div>
<div class="t" style="left:558.5px;top:23px;font-size:19px;color:#f23645">0.59395</div>
<div class="t" style="left:636.5px;top:23px;font-size:19px;color:#3c3c3c">C</div>
<div class="t" style="left:650px;top:23px;font-size:19px;color:#f23645">0.59421</div>
<div class="t" style="left:727px;top:23px;font-size:19px;color:#f23645">−0.00003</div>
<div class="t" style="left:812px;top:23px;font-size:19px;color:#f23645;letter-spacing:-0.4px">(−0.01%)</div>
<div style="position:absolute;left:19px;top:56px;width:90px;height:36px;border:1px solid #f23645;border-radius:6px;background:#fff"></div>
<div class="t" style="left:29.5px;top:64.5px;font-size:19px;color:#f23645">0.5941<span style="font-size:16px;vertical-align:3px;margin-left:1.5px">8</span></div>
<div class="t" style="left:121px;top:67px;font-size:16px;color:#131722">0.3</div>
<div style="position:absolute;left:156px;top:56px;width:90px;height:36px;border:1px solid #2962ff;border-radius:6px;background:#fff"></div>
<div class="t" style="left:166.5px;top:64.5px;font-size:19px;color:#2962ff">0.5942<span style="font-size:16px;vertical-align:3px;margin-left:1.5px">1</span></div>

<!-- USD dropdown -->
<div style="position:absolute;left:1068px;top:14px;width:87px;height:38px;border:1px solid #e0e3eb;border-radius:7px;background:#fff"></div>
<div class="t" style="left:1073px;top:24px;font-size:17.5px;color:#131722;transform:scaleX(0.85);transform-origin:0 0">USD</div>
<svg width="10" height="7" style="left:1139px;top:30px" viewBox="0 0 10 7"><path d="M1 1.5 L5 5 L9 1.5" fill="none" stroke="#131722" stroke-width="1.8"/></svg>

<!-- price axis labels -->
<div class="t ax" style="left:1074px;top:112px">0.60000</div>
<div class="t ax" style="left:1074px;top:214px">0.59500</div>
<div class="t ax" style="left:1074px;top:315px">0.59000</div>
<div class="lbl" style="top:86px;background:#006064;color:#fff">0.60105</div>
<div class="lbl" style="top:151px;background:#64b5f6;color:#131722;font-weight:normal">0.59785</div>
<div class="lbl" style="top:258px;background:#ec407a;color:#fff">0.59261</div>
<div class="lbl" style="top:333px;background:#ec407a;color:#fff">0.58892</div>
<div style="position:absolute;left:983px;top:225px;width:78px;height:27px;background:#00bcd4;border-radius:3px 0 0 3px"></div>
<div class="t" style="left:989.5px;top:231px;font-size:17.5px;font-weight:bold;color:#fff;transform:scaleX(0.855);transform-origin:0 0">NZDUSD</div>
<div class="t ax" style="left:1074px;top:468px">40.00</div>
<div class="t ax" style="left:1074px;top:551px">0.00000</div>

<!-- pane labels -->
<div class="t" style="left:20px;top:430px;font-size:19.5px;color:#505050;transform:scaleX(0.82);transform-origin:0 0">RSI</div>
<div class="t" style="left:19.5px;top:538px;font-size:18px;color:#555;transform:scaleX(0.92);transform-origin:0 0">MACD</div>

<!-- time axis -->
<div class="t ax" style="left:79px;top:645px;font-weight:bold">15</div>
<div class="t ax" style="left:254px;top:645px">17</div>
<div class="t ax" style="left:383px;top:645px">12:00</div>
<div class="t ax" style="left:554px;top:645px;font-weight:bold">22</div>
<div class="t ax" style="left:729px;top:645px">24</div>
<div class="t ax" style="left:859px;top:645px">12:00</div>
<div class="t ax" style="left:1030px;top:645px">29</div>
<svg width="26" height="24" style="left:1099px;top:640px" viewBox="0 0 26 24"><path d="M7.5 2.5 H18.5 L24 12 L18.5 21.5 H7.5 L2 12 Z" fill="none" stroke="#131722" stroke-width="1.5"/><circle cx="13" cy="12" r="3" fill="none" stroke="#131722" stroke-width="1.5"/></svg>
</body></html>
